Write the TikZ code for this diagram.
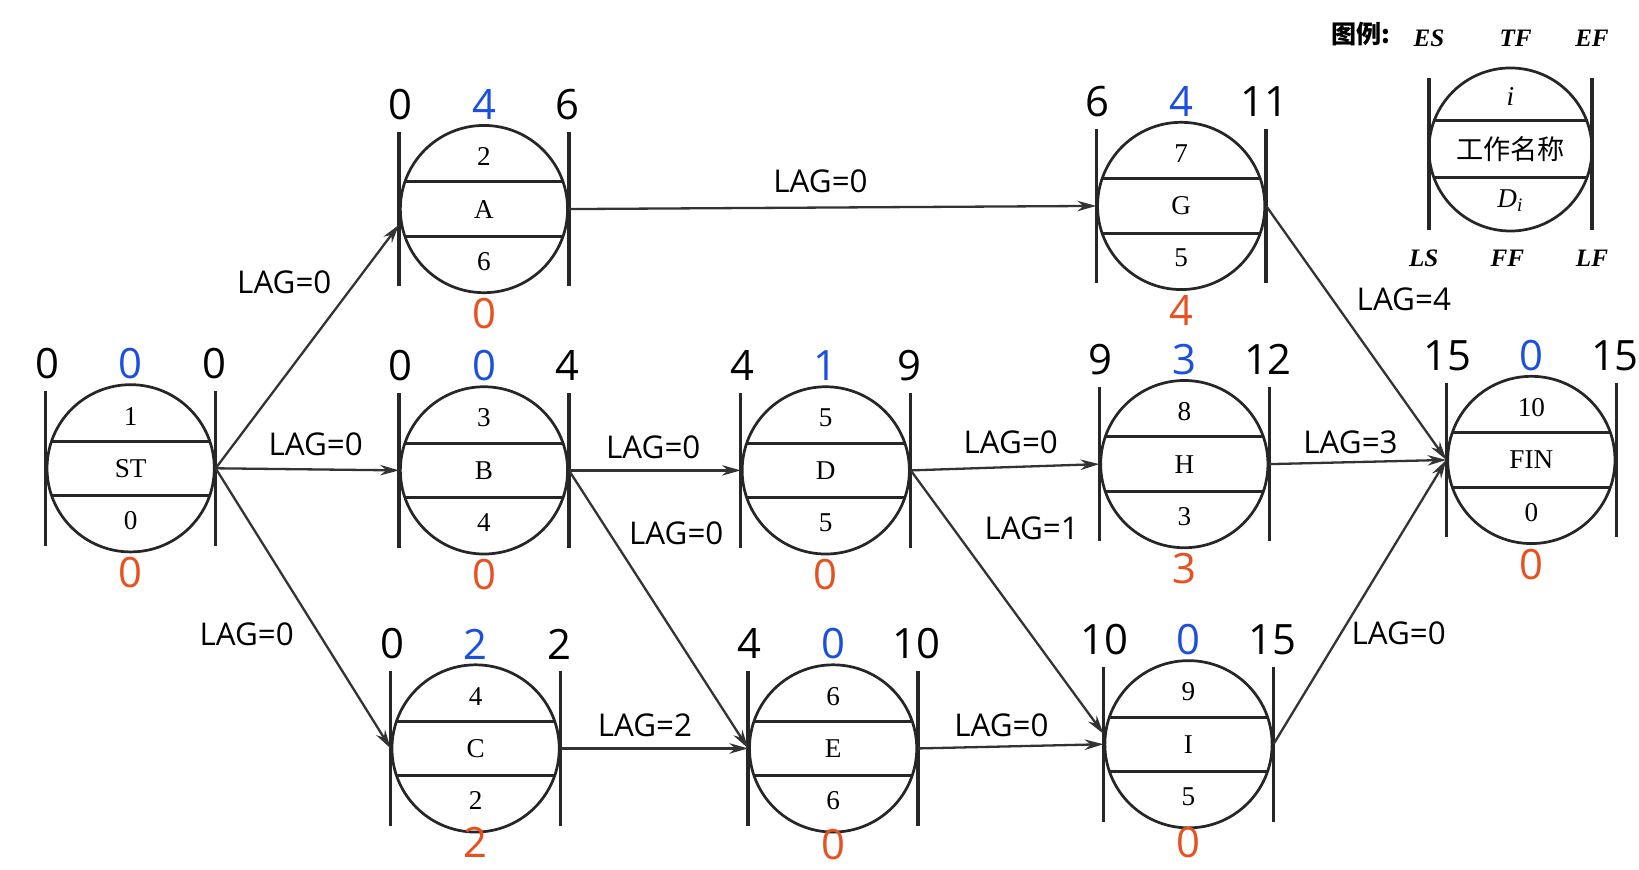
\documentclass[tikz,border=0pt]{standalone}
\usepackage{fontspec}
\setmainfont{Liberation Serif}
\newfontfamily\numfont{Open Sans}
\newfontfamily\cjk{Noto Sans CJK SC}
\usetikzlibrary{arrows.meta,calc}
\definecolor{myblue}{HTML}{1A4FE0}
\definecolor{myorange}{HTML}{E8501E}
\tikzset{
  act/.style={circle,draw=black!85,line width=1.3pt,minimum size=80pt,inner sep=0pt},
  bar/.style={line width=1.6pt,black!85},
  chord/.style={line width=1.4pt,black!85},
  inner/.style={font=\fontsize{13}{13}\selectfont,inner sep=0pt},
  outnum/.style={font=\numfont\fontsize{20}{20}\selectfont,inner sep=0pt},
  lag/.style={font=\numfont\fontsize{15}{15}\selectfont,inner sep=0pt},
  conn/.style={-{Stealth[length=9pt,width=5pt]},line width=1.1pt,black!80},
}
\newcommand{\actnode}[9]{%
  \node[act] (#1) at (#2,#3) {};
  \draw[bar] ($(#1.east)+(0,-74)$) -- ($(#1.east)+(0,74)$);
  \draw[bar] ($(#1.west)+(0,-74)$) -- ($(#1.west)+(0,74)$);
  \draw[chord] ($(#1.center)+(-75.7,-26)$) -- ($(#1.center)+(75.7,-26)$);
  \draw[chord] ($(#1.center)+(-75.7,26)$) -- ($(#1.center)+(75.7,26)$);
  \node[inner] (#1n) at ($(#1.center)+(0,-50)$) {#4};
  \node[inner] (#1l) at (#1.center) {#5};
  \node[inner] (#1d) at ($(#1.center)+(0,50)$) {#6};
  \node[outnum] (#1es) at ($(#1.center)+(-80,-100)$) {#7};
  \node[outnum,myblue] (#1tf) at ($(#1.center)+(0,-100)$) {#8};
  \node[outnum] (#1ef) at ($(#1.center)+(80,-100)$) {#9};
}
\newcommand{\ffnum}[3][100]{\node[outnum,myorange] (#2ff) at ($(#2.center)+(0,#1)$) {#3};}
\begin{document}
\begin{tikzpicture}[x=0.5pt,y=-0.5pt]
\useasboundingbox[fill=white] (0,0) rectangle (1568,832);
\actnode{ST}{125}{448}{1}{ST}{0}{0}{0}{0}\ffnum{ST}{0}
\actnode{A}{463}{200}{2}{A}{6}{0}{4}{6}\ffnum{A}{0}
\actnode{B}{463}{450}{3}{B}{4}{0}{0}{4}\ffnum{B}{0}
\actnode{C}{455}{716}{4}{C}{2}{0}{2}{2}\ffnum[90]{C}{2}
\actnode{D}{790}{450}{5}{D}{5}{4}{1}{9}\ffnum{D}{0}
\actnode{E}{797}{716}{6}{E}{6}{4}{0}{10}\ffnum[92]{E}{0}
\actnode{G}{1130}{197}{7}{G}{5}{6}{4}{11}\ffnum{G}{4}
\actnode{H}{1133}{444}{8}{H}{3}{9}{3}{12}\ffnum{H}{3}
\actnode{I}{1137}{712}{9}{I}{5}{10}{0}{15}\ffnum[94]{I}{0}
\actnode{FIN}{1465}{440}{10}{FIN}{0}{15}{0}{15}\ffnum{FIN}{0}
\draw[conn] (ST.east) -- ($(A.west)+(0,15)$);
\draw[conn] (ST.east) -- (B.west);
\draw[conn] (ST.east) -- (C.west);
\draw[conn] (A.east) -- (G.west);
\draw[conn] (B.east) -- (D.west);
\draw[conn] (B.east) -- (E.west);
\draw[conn] (C.east) -- (E.west);
\draw[conn] (D.east) -- (H.west);
\draw[conn] (D.east) -- ($(I.west)+(0,-10)$);
\draw[conn] (E.east) -- (I.west);
\draw[conn] (G.east) -- (FIN.west);
\draw[conn] (H.east) -- (FIN.west);
\draw[conn] (I.east) -- (FIN.west);
\node[lag] (l1) at (272,270) {LAG=0};
\node[lag] (l2) at (302,425) {LAG=0};
\node[lag] (l3) at (236,607) {LAG=0};
\node[lag] (l4) at (785,173) {LAG=0};
\node[lag] (l5) at (625,428) {LAG=0};
\node[lag] (l6) at (647,510) {LAG=0};
\node[lag] (l7) at (967,423) {LAG=0};
\node[lag] (l8) at (987,505) {LAG=1};
\node[lag] (l9) at (617,694) {LAG=2};
\node[lag] (l10) at (958,694) {LAG=0};
\node[lag] (l11) at (1343,286) {LAG=4};
\node[lag] (l12) at (1292,423) {LAG=3};
\node[lag] (l13) at (1338,606) {LAG=0};
% legend
\node[act,minimum size=78pt] (LG) at (1445,143) {};
\draw[bar] (1367,75) -- (1367,220);
\draw[bar] (1523,75) -- (1523,220);
\draw[chord] (1371,115) -- (1519,115);
\draw[chord] (1371,170) -- (1519,170);
\node[inner,font=\itshape\fontsize{13}{13}\selectfont] (LGi) at (1445,92) {i};
\node[inner,font=\cjk\fontsize{13}{13}\selectfont] (LGn) at (1445,143) {工作名称};
\node[inner,font=\itshape\fontsize{13}{13}\selectfont] (LGd) at (1445,192) {D\textsubscript{i}};
\node[inner,font=\cjk\bfseries\fontsize{12}{12}\selectfont] (LGt) at (1302,33) {图例:};
\tikzset{lg/.style={inner,font=\bfseries\itshape\fontsize{12}{12}\selectfont}}
\node[lg] (LGes) at (1367,37) {ES};
\node[lg] (LGtf) at (1450,37) {TF};
\node[lg] (LGef) at (1523,37) {EF};
\node[lg] (LGls) at (1362,247) {LS};
\node[lg] (LGff) at (1442,247) {FF};
\node[lg] (LGlf) at (1523,247) {LF};
\end{tikzpicture}
\end{document}
